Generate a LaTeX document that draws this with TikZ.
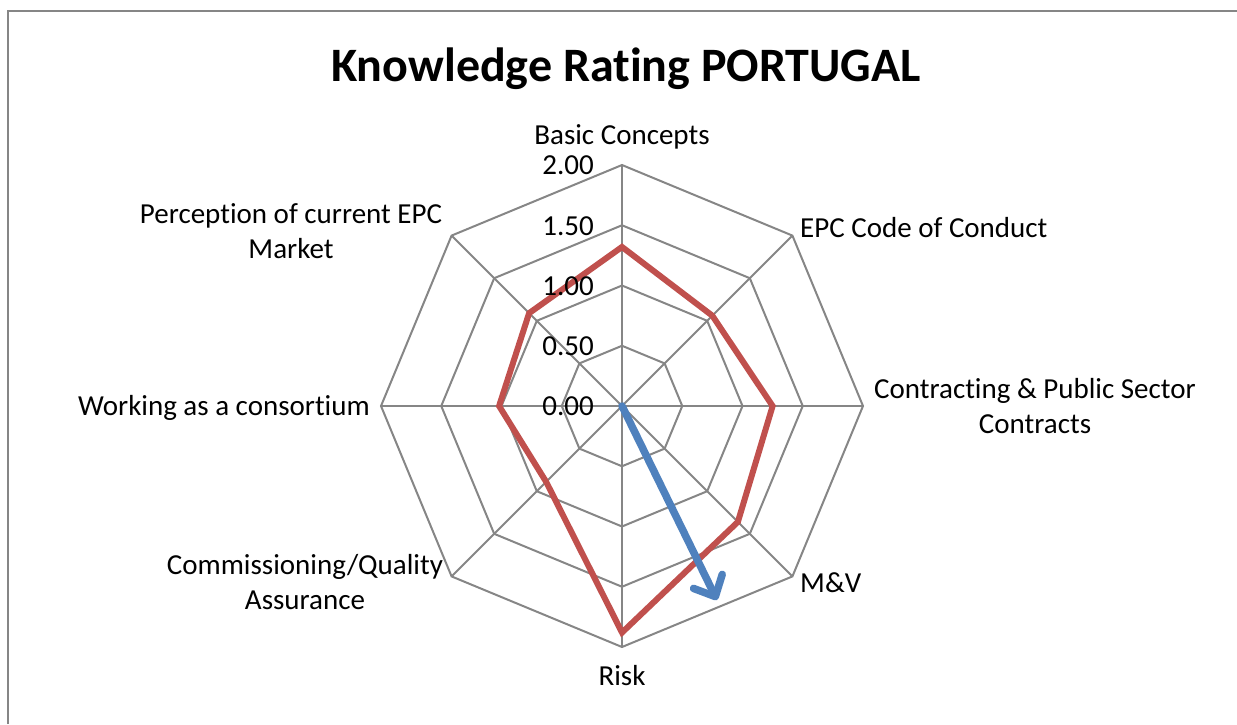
\documentclass[tikz,border=0pt]{standalone}
\usepackage{fontspec}
\setmainfont[Ligatures={NoCommon}]{Carlito}
\usetikzlibrary{arrows.meta}

\definecolor{gridgray}{HTML}{868686}
\definecolor{seriesred}{HTML}{C0504D}
\definecolor{arrowblue}{HTML}{4F81BD}

\tikzset{
  grid line/.style={draw=gridgray, line width=2pt},
  axis label/.style={font=\fontsize{29}{35}\selectfont, align=center, inner sep=0pt},
  tick label/.style={font=\fontsize{29}{35}\selectfont, anchor=base east, inner sep=0pt},
  series/.style={draw=seriesred, line width=6pt, line join=miter},
}

\begin{document}
\begin{tikzpicture}[x=1pt,y=1pt]
    \useasboundingbox (0,0) rectangle (1237,-724);

    % frame and title
    \draw[gridgray, line width=2pt] (8,-724) -- (8,-11) -- (1237,-11);
    \node[font=\fontsize{48}{58}\selectfont\bfseries, anchor=base, inner sep=0pt] (title) at (626,-81) {Knowledge Rating PORTUGAL};

    % radar grid
    \coordinate (c) at (622,-406);
    \begin{scope}[shift={(c)}]
      \foreach \r in {60.25,120.5,180.75,241}
        \draw[grid line] (0:\r) -- (45:\r) -- (90:\r) -- (135:\r) -- (180:\r) -- (225:\r) -- (270:\r) -- (315:\r) -- cycle;
      \foreach \a in {0,45,...,315}
        \draw[grid line] (0,0) -- (\a:241);

      % series
      \draw[series] (90:{1.32*120.5}) -- (45:{1.06*120.5}) -- (0:{1.25*120.5}) -- (-45:{1.36*120.5})
        -- (-90:{1.88*120.5}) -- (-135:{0.89*120.5}) -- (180:{1.02*120.5}) -- (135:{1.09*120.5}) -- cycle;

      % trend arrow
      \coordinate (tip) at (95,-194);
      \draw[arrowblue, line width=7.5pt, line cap=round, -{Straight Barb[length=17pt, width=32pt, round]}] (0,0) -- (tip);
    \end{scope}

    % axis values
    \node[tick label] (t200) at (594,-174) {2.00};
    \node[tick label] (t150) at (594,-235) {1.50};
    \node[tick label] (t100) at (594,-295) {1.00};
    \node[tick label] (t050) at (594,-355) {0.50};
    \node[tick label] (t000) at (594,-415) {0.00};

    % category labels (multi-line ones sit on their last line)
    \node[axis label, anchor=base] (lbasic) at (622,-144) {Basic Concepts};
    \node[axis label, anchor=base west] (lcode) at (800,-237) {EPC Code of Conduct};
    \node[axis label, anchor=base] (lcontract) at (1035,-433) {Contracting \& Public Sector\\Contracts};
    \node[axis label, anchor=base west] (lmv) at (800,-592) {M\&V};
    \node[axis label, anchor=base] (lrisk) at (622,-685) {Risk};
    \node[axis label, anchor=base] (lcomm) at (305,-609) {Commissioning/Quality\\Assurance};
    \node[axis label, anchor=base east] (lwork) at (370,-415) {Working as a consortium};
    \node[axis label, anchor=base] (lperc) at (291,-258) {Perception of current EPC\\Market};

\end{tikzpicture}
\end{document}
